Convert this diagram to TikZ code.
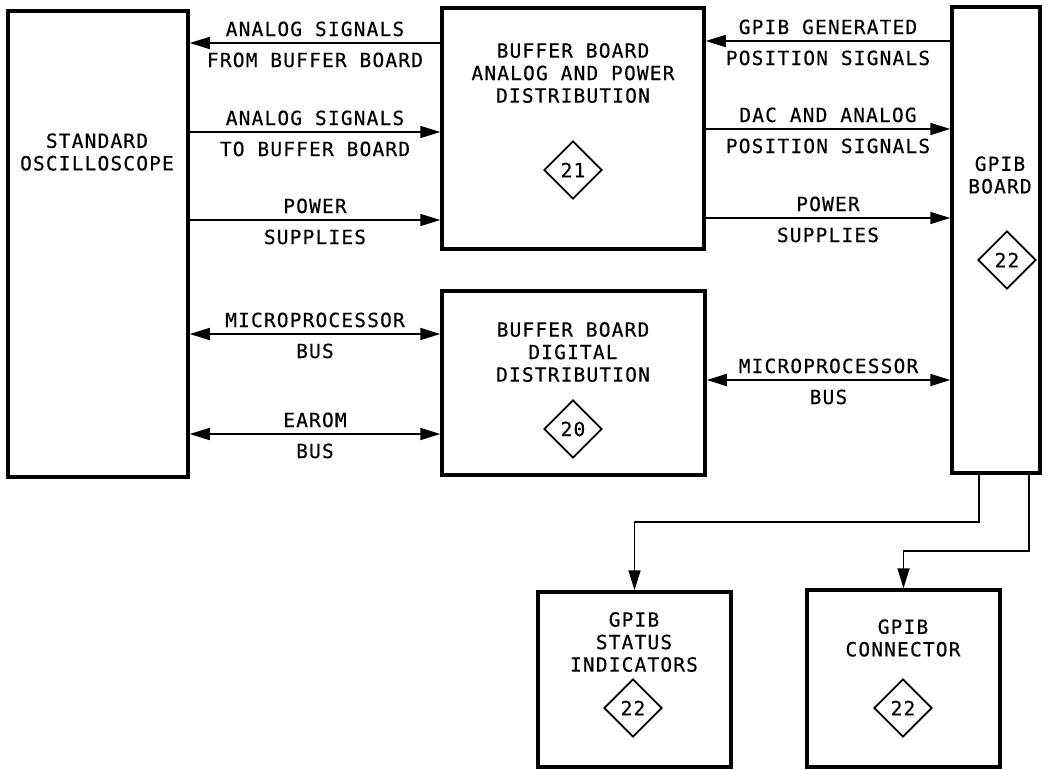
\documentclass[tikz,border=0pt]{standalone}
\usepackage{fontspec}
\newfontfamily\plotfont[LetterSpace=6,FakeBold=0.4]{DejaVu Sans Mono}
\usetikzlibrary{arrows.meta,shapes.geometric}
\begin{document}
\begin{tikzpicture}[x=1pt,y=-1pt,
  box/.style={draw,line width=3.5pt,rectangle,inner sep=0pt},
  txt/.style={font=\plotfont\fontsize{19.5}{22.5}\selectfont,align=center,inner sep=0pt},
  lab/.style={font=\plotfont\fontsize{19.5}{22.5}\selectfont,inner sep=0pt,anchor=base},
  up/.style={lab,yshift=7pt},
  dn/.style={lab,yshift=-24pt},
  sig/.style={line width=1.7pt,-{Triangle[length=20pt,width=12pt]}},
  bisig/.style={line width=1.7pt,{Triangle[length=20pt,width=12pt]}-{Triangle[length=20pt,width=12pt]}},
  refd/.style={draw,shape=diamond,line width=1.8pt,minimum width=58pt,minimum height=58pt,inner sep=0pt,font=\plotfont\fontsize{19.5}{22.5}\selectfont}]
\useasboundingbox (0,0) rectangle (1047,769);
\fill[white] (0,0) rectangle (1047,769);

% boxes
\node[box,minimum width=180pt,minimum height=466pt] (osc) at (98,244) {};
\node[box,minimum width=262pt,minimum height=241pt] (ba) at (573,128.5) {};
\node[box,minimum width=263pt,minimum height=184pt] (bd) at (573.5,383) {};
\node[box,minimum width=88pt,minimum height=466pt] (gb) at (996,240) {};
\node[box,minimum width=193pt,minimum height=175pt] (st) at (634.5,679.5) {};
\node[box,minimum width=193pt,minimum height=177pt] (cn) at (903.5,678.5) {};

% box texts
\node[txt] (osct) at (97,152) {STANDARD\\OSCILLOSCOPE};
\node[txt] (bat) at (573,73) {BUFFER BOARD\\ANALOG AND POWER\\DISTRIBUTION};
\node[txt] (bdt) at (573,352) {BUFFER BOARD\\DIGITAL\\DISTRIBUTION};
\node[txt] (gbt) at (1000,175) {GPIB\\BOARD};
\node[txt] (stt) at (634,642) {GPIB\\STATUS\\INDICATORS};
\node[txt] (cnt) at (903,638) {GPIB\\CONNECTOR};

% reference diamonds
\node[refd] (d21) at (573,170) {21};
\node[refd] (d20) at (573,429) {20};
\node[refd] (d22a) at (1007,260) {22};
\node[refd] (d22b) at (633,708) {22};
\node[refd] (d22c) at (903,708) {22};

% row coordinates
\coordinate (r1) at (0,43);
\coordinate (r2) at (0,132);
\coordinate (r3) at (0,220);
\coordinate (r4) at (0,334);
\coordinate (r5) at (0,434);
\coordinate (q1) at (0,41);
\coordinate (q2) at (0,129);
\coordinate (q3) at (0,218);
\coordinate (q4) at (0,380);

% left side connectors
\draw[sig] (ba.west |- r1) -- (osc.east |- r1)
  node[midway,up] (l1a) {ANALOG SIGNALS}
  node[midway,dn] (l1b) {FROM BUFFER BOARD};
\draw[sig] (osc.east |- r2) -- (ba.west |- r2)
  node[midway,up] (l2a) {ANALOG SIGNALS}
  node[midway,dn] (l2b) {TO BUFFER BOARD};
\draw[sig] (osc.east |- r3) -- (ba.west |- r3)
  node[midway,up] (l3a) {POWER}
  node[midway,dn] (l3b) {SUPPLIES};
\draw[bisig] (osc.east |- r4) -- (bd.west |- r4)
  node[midway,up] (l4a) {MICROPROCESSOR}
  node[midway,dn] (l4b) {BUS};
\draw[bisig] (osc.east |- r5) -- (bd.west |- r5)
  node[midway,up] (l5a) {EAROM}
  node[midway,dn] (l5b) {BUS};

% right side connectors
\draw[sig] (gb.west |- q1) -- (ba.east |- q1)
  node[midway,up] (m1a) {GPIB GENERATED}
  node[midway,dn] (m1b) {POSITION SIGNALS};
\draw[sig] (ba.east |- q2) -- (gb.west |- q2)
  node[midway,up] (m2a) {DAC AND ANALOG}
  node[midway,dn] (m2b) {POSITION SIGNALS};
\draw[sig] (ba.east |- q3) -- (gb.west |- q3)
  node[midway,up] (m3a) {POWER}
  node[midway,dn] (m3b) {SUPPLIES};
\draw[bisig] (bd.east |- q4) -- (gb.west |- q4)
  node[midway,up] (m4a) {MICROPROCESSOR}
  node[midway,dn] (m4b) {BUS};

% lower connectors
\coordinate (c1) at (979,0);
\coordinate (c2) at (1029,0);
\draw[sig] (c1 |- gb.south) -- (979,522) -| (st.north);
\draw[sig] (c2 |- gb.south) -- (1029,551) -| (cn.north);
\end{tikzpicture}
\end{document}
